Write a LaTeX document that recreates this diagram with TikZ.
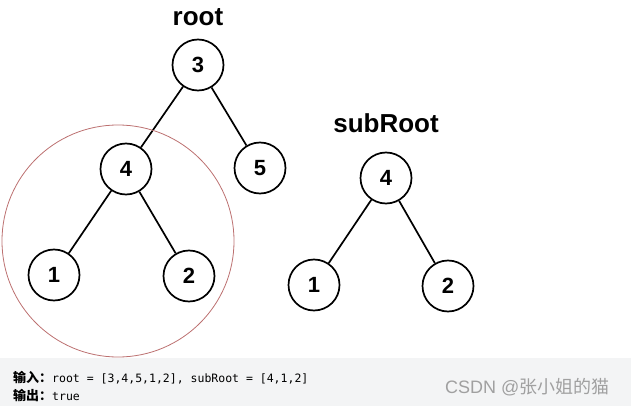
\documentclass[tikz,border=0pt]{standalone}
\usepackage{fontspec}
\setmainfont{Liberation Sans}
\setmonofont{DejaVu Sans Mono}
\newfontfamily\cjk{Noto Sans CJK SC}
\usetikzlibrary{positioning}
\definecolor{ringred}{RGB}{188,112,112}
\definecolor{bandgray}{RGB}{243,244,245}
\definecolor{markgray}{RGB}{160,160,160}

\begin{document}
\begin{tikzpicture}[x=1pt,y=-1pt,
    tnode/.style={circle,draw,line width=1.7pt,minimum size=51pt,inner sep=0pt,
      font=\fontsize{22}{22}\selectfont\bfseries},
    title/.style={anchor=base,inner sep=0pt,font=\fontsize{26}{26}\selectfont\bfseries},
    every edge/.style={draw,line width=1.7pt}]
    \useasboundingbox (0,0) rectangle (631,406);
    \fill[bandgray] (0,358) rectangle (631,406);
    % root tree
    \node[title] (rootlbl) at (198,26) {root};
    \node[tnode] (r_3) at (198,65)  {3};
    \node[tnode] (r_4) at (126,169) {4};
    \node[tnode] (r_5) at (260,168) {5};
    \node[tnode] (r_1) at (54,275)  {1};
    \node[tnode] (r_2) at (189,276) {2};
    % subRoot tree
    \node[title] (sublbl) at (386,133) {subRoot};
    \node[tnode] (s_4) at (386,178) {4};
    \node[tnode] (s_1) at (314,285) {1};
    \node[tnode] (s_2) at (448,286) {2};
    \path
    (r_3) edge (r_4)
    (r_3) edge (r_5)
    (r_4) edge (r_1)
    (r_4) edge (r_2)
    (s_4) edge (s_1)
    (s_4) edge (s_2);
    % matching subtree
    \draw[ringred,line width=0.8pt] (118,241) circle[radius=116pt];
    % example text
    \node[anchor=base west,inner sep=0pt] (input) at (13,382)
      {{\cjk\bfseries\fontsize{13}{13}\selectfont 输入：}{\ttfamily\fontsize{11.5}{11.5}\selectfont root = [3,4,5,1,2], subRoot = [4,1,2]}};
    \node[anchor=base west,inner sep=0pt] (output) at (13,400)
      {{\cjk\bfseries\fontsize{13}{13}\selectfont 输出：}{\ttfamily\fontsize{11.5}{11.5}\selectfont true}};
    \node[anchor=base west,inner sep=0pt,text=markgray,font=\fontsize{18}{18}\selectfont] (mark) at (445,393)
      {CSDN @{\cjk 张小姐的猫}};
\end{tikzpicture}
\end{document}
